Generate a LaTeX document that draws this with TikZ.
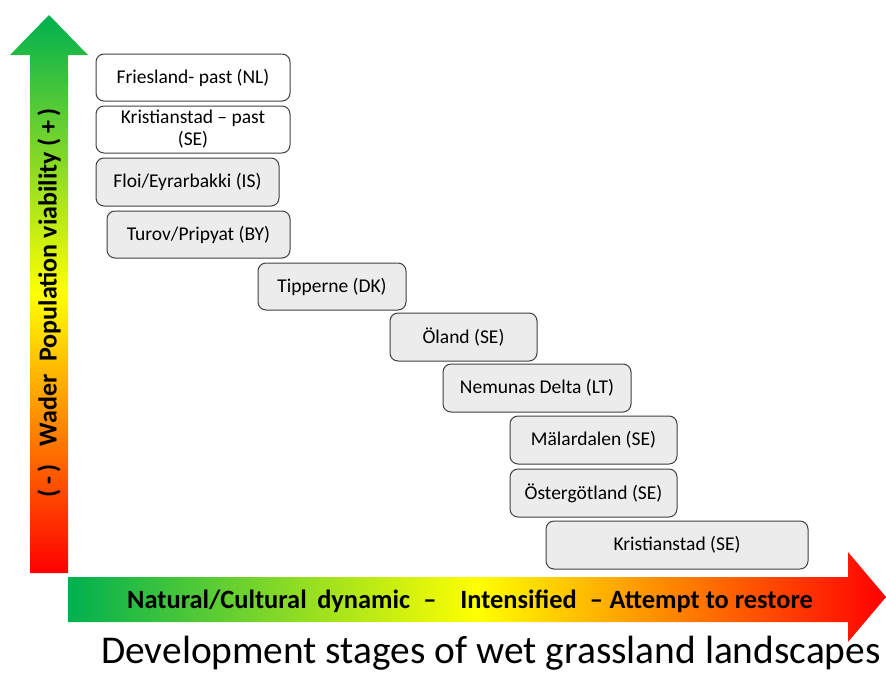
\documentclass[tikz,border=0pt]{standalone}
\usepackage{fontspec}
\setmainfont{Carlito}
\definecolor{agreen}{RGB}{0,176,80}
\definecolor{ayellow}{RGB}{255,255,0}
\definecolor{ared}{RGB}{255,0,0}
\definecolor{boxgray}{RGB}{236,236,236}
\definecolor{boxline}{RGB}{64,64,64}
\begin{document}
\begin{tikzpicture}[x=1pt,y=-1pt,
  stagebox/.style={draw=boxline, line width=1pt, rounded corners=8pt, align=center,
    font=\fontsize{19.5}{22}\selectfont, inner sep=0pt, fill=boxgray},
  pastbox/.style={stagebox, fill=white},
  axislabel/.style={font=\fontsize{26}{28}\selectfont\bfseries, inner sep=0pt}]
\useasboundingbox (0,0) rectangle (886,673);
\clip (0,0) rectangle (886,673);
% vertical arrow
\shade[top color=agreen, bottom color=ared, middle color=ayellow]
  (30,573) -- (30,55) -- (10,55) -- (49,15) -- (88,55) -- (68,55) -- (68,573) -- cycle;
% horizontal arrow
\shade[left color=agreen, right color=ared, middle color=ayellow]
  (68,577) -- (848,577) -- (848,552) -- (886,597) -- (848,642) -- (848,622) -- (68,622) -- cycle;
\node[axislabel, rotate=90] (ylab) at (49,303)
  {(\,-\,)\hspace{0.7em}Wader\hspace{0.5em}Population viability (\,+\,)};
\node[axislabel, font=\fontsize{26.4}{28}\selectfont\bfseries, anchor=base] (xlab) at (470,608)
  {Natural/Cultural\hspace{0.4em}dynamic\hspace{0.5em}–\hspace{0.9em}Intensified\hspace{0.5em}–\hspace{0.25em}Attempt to restore};
\node[font=\fontsize{39.4}{44}\selectfont, anchor=base, inner sep=0pt] (title) at (491,663)
  {Development stages of wet grassland landscapes};
% boxes
\node[pastbox, minimum width=194pt, minimum height=47pt] (b1) at (193,77.5) {Friesland- past (NL)};
\node[pastbox, minimum width=194pt, minimum height=47pt] (b2) at (193,129.5) {Kristianstad – past\\(SE)};
\node[stagebox, minimum width=183pt, minimum height=48pt] (b3) at (187.5,182) {Floi/Eyrarbakki (IS)};
\node[stagebox, minimum width=183pt, minimum height=47pt] (b4) at (198.5,234.5) {Turov/Pripyat (BY)};
\node[stagebox, minimum width=148pt, minimum height=47pt] (b5) at (332,286.5) {Tipperne (DK)};
\node[stagebox, minimum width=147pt, minimum height=48pt] (b6) at (463.5,337) {Öland (SE)};
\node[stagebox, minimum width=188pt, minimum height=48pt] (b7) at (537,388) {Nemunas Delta (LT)};
\node[stagebox, minimum width=167pt, minimum height=48pt] (b8) at (593.5,440) {Mälardalen (SE)};
\node[stagebox, minimum width=167pt, minimum height=48pt] (b9) at (593.5,493) {Östergötland (SE)};
\node[stagebox, minimum width=262pt, minimum height=48pt] (b10) at (677,545) {Kristianstad (SE)};
\end{tikzpicture}
\end{document}
